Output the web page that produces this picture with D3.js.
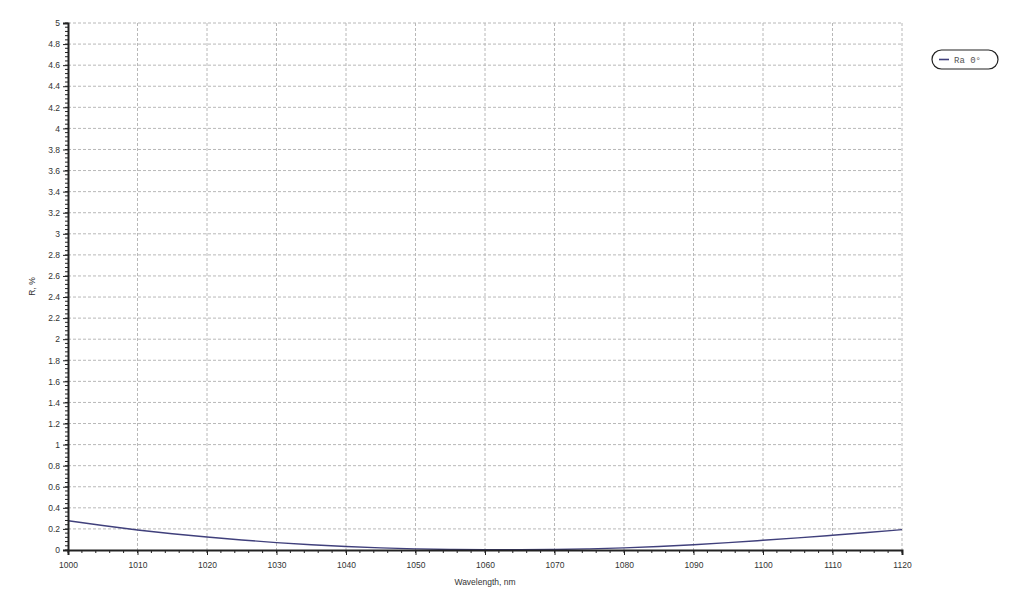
<!DOCTYPE html>
<html>
<head>
<meta charset="utf-8">
<script src="https://cdn.jsdelivr.net/npm/d3@7"></script>
<style>
  body { margin: 0; background: #fff; }
  svg { display: block; }
  .axis text { font-family: "Liberation Sans", Arial, sans-serif; font-size: 8.5px; fill: #333; }
  .axis path, .axis line { stroke: #222; }
</style>
</head>
<body>
<div id="chart"></div>
<script>
// wavelength (nm) and reflectance R, %
var wavelength = [1000, 1005, 1010, 1015, 1020, 1025, 1030, 1035, 1040, 1045, 1050, 1055, 1060,
                  1065, 1070, 1075, 1080, 1085, 1090, 1095, 1100, 1105, 1110, 1115, 1120];
var reflectance = [0.278, 0.232, 0.190, 0.154, 0.123, 0.095, 0.070, 0.050, 0.033, 0.020, 0.011, 0.005, 0.003,
                   0.003, 0.005, 0.011, 0.020, 0.033, 0.050, 0.070, 0.092, 0.115, 0.140, 0.166, 0.193];
var xTicks = d3.range(1000, 1121, 10);
var yTicks = d3.range(0, 5.01, 0.2).map(function (v) { return +v.toFixed(1); });
var seriesName = "Ra 0\u00b0";

var margin = { top: 23, right: 122, bottom: 58, left: 68 },
    w = 1024 - margin.left - margin.right,
    h = 608 - margin.top - margin.bottom;

var svg = d3.select('#chart')
    .append('svg')
    .attr('width', 1024)
    .attr('height', 608)
    .append('g')
    .attr('transform', `translate(${margin.left},${margin.top})`);

var xScale = d3.scaleLinear().domain([1000, 1120]).range([0, w]);
var yScale = d3.scaleLinear().domain([0, 5]).range([h, 0]);

// grid
svg.append('g').selectAll('line')
    .data(xTicks.slice(1))
    .enter().append('line')
    .attr('x1', d => xScale(d)).attr('x2', d => xScale(d))
    .attr('y1', 0).attr('y2', h)
    .attr('stroke', '#b8b8b8').attr('stroke-dasharray', '3,2');

svg.append('g').selectAll('line')
    .data(yTicks.slice(1))
    .enter().append('line')
    .attr('x1', 0).attr('x2', w)
    .attr('y1', d => yScale(d)).attr('y2', d => yScale(d))
    .attr('stroke', '#b8b8b8').attr('stroke-dasharray', '3,2');

// minor ticks
svg.append('g').selectAll('line')
    .data(d3.range(1000, 1121, 2))
    .enter().append('line')
    .attr('x1', d => xScale(d)).attr('x2', d => xScale(d))
    .attr('y1', h).attr('y2', h + 3)
    .attr('stroke', '#222');

svg.append('g').selectAll('line')
    .data(d3.range(0, 5.001, 0.04))
    .enter().append('line')
    .attr('x1', -3).attr('x2', 0)
    .attr('y1', d => yScale(d)).attr('y2', d => yScale(d))
    .attr('stroke', '#222');

// curve
var line = d3.line()
    .x((d, i) => xScale(wavelength[i]))
    .y(d => yScale(d))
    .curve(d3.curveMonotoneX);

svg.append('path')
    .datum(reflectance)
    .attr('fill', 'none')
    .attr('stroke', '#40407c')
    .attr('stroke-width', 1.4)
    .attr('d', line);

// axes
var xAxis = d3.axisBottom(xScale).tickValues(xTicks).tickSize(5).tickPadding(7).tickFormat(d3.format('d'));
var yAxis = d3.axisLeft(yScale).tickValues(yTicks).tickSize(5).tickPadding(3).tickFormat(d => String(d));

svg.append('g')
    .attr('class', 'x axis')
    .attr('transform', `translate(0,${h})`)
    .call(xAxis)
    .call(g => g.select('.domain').attr('stroke-width', 2));

svg.append('g')
    .attr('class', 'y axis')
    .call(yAxis)
    .call(g => g.select('.domain').attr('stroke-width', 2));

// axis titles
svg.append('text')
    .attr('x', xScale(1060))
    .attr('y', h + 35)
    .attr('text-anchor', 'middle')
    .style('font-family', '"Liberation Sans", Arial, sans-serif')
    .style('font-size', '8.5px')
    .style('fill', '#333')
    .text('Wavelength, nm');

svg.append('text')
    .attr('transform', `translate(-33,${yScale(2.5)}) rotate(-90)`)
    .attr('text-anchor', 'middle')
    .style('font-family', '"Liberation Sans", Arial, sans-serif')
    .style('font-size', '8.5px')
    .style('fill', '#333')
    .text('R, %');

// legend
var legend = svg.append('g')
    .attr('transform', `translate(${w + 30},${27})`);

legend.append('rect')
    .attr('x', 0).attr('y', 0)
    .attr('width', 66).attr('height', 19)
    .attr('rx', 9.5).attr('ry', 9.5)
    .attr('fill', '#fff')
    .attr('stroke', '#222')
    .attr('stroke-width', 1.2);

legend.append('line')
    .attr('x1', 7).attr('x2', 17)
    .attr('y1', 9.5).attr('y2', 9.5)
    .attr('stroke', '#40407c')
    .attr('stroke-width', 1.6);

legend.append('text')
    .attr('x', 22).attr('y', 13)
    .style('font-family', '"Liberation Mono", "DejaVu Sans Mono", monospace')
    .style('font-size', '9px')
    .style('fill', '#555')
    .text(seriesName);
</script>
</body>
</html>
